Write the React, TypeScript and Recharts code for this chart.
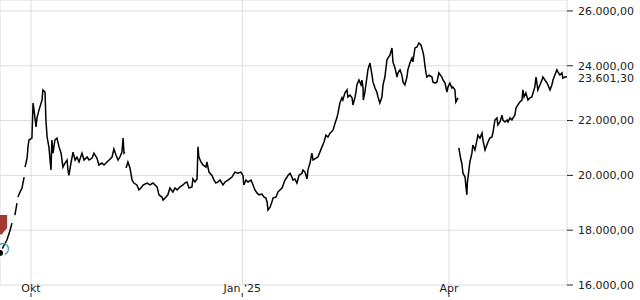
import React from 'react';
import { LineChart, Line, XAxis, YAxis, CartesianGrid, ReferenceLine, ReferenceDot } from 'recharts';

// days counted from 2024-09-01, null price = session gap
const days = [
  16.5, 19.5, 20.9, 21.7, 22.3, 23.0, 23.9, 24.1, 24.3, 25.2, 26.1, 27.0, 27.2, 27.4, 28.3, 28.7, 29.1,
  30.4, 30.9, 31.3, 32.2, 32.6, 33.5, 34.8, 35.2, 36.1, 36.5, 37.0, 37.8, 38.7, 39.1, 39.6, 40.4, 41.3,
  42.2, 43.1, 43.9, 44.8, 45.7, 46.1, 46.5, 47.4, 48.3, 49.2, 50.0, 50.9, 52.2, 53.1, 54.4, 55.3, 56.6,
  57.4, 58.7, 59.6, 60.9, 61.8, 63.1, 64.0, 65.3, 66.1, 67.0, 67.9, 68.7, 69.6, 70.1, 70.5, 70.9, 71.1,
  71.4, 72.2, 73.1, 74.0, 74.8, 76.1, 77.0, 78.3, 78.8, 80.5, 81.8, 83.1, 84.9, 85.7, 87.0, 87.5, 88.8,
  89.6, 90.5, 91.8, 92.7, 93.6, 94.9, 96.2, 97.0, 97.9, 98.8, 100.1, 100.5, 101.4, 102.3, 102.7, 103.1,
  104.0, 104.9, 106.2, 106.6, 107.5, 108.8, 109.7, 110.5, 111.4, 112.3, 113.6, 114.5, 115.8, 117.5,
  118.8, 120.1, 121.4, 122.3, 122.7, 123.6, 124.5, 125.8, 126.7, 127.5, 128.4, 129.3, 130.6, 131.4,
  132.3, 132.8, 133.2, 134.1, 134.9, 135.4, 136.7, 137.5, 138.4, 139.3, 140.6, 141.5, 141.9, 142.8,
  143.6, 144.1, 144.9, 145.8, 146.7, 148.0, 148.4, 149.3, 150.2, 150.6, 151.5, 152.3, 152.8, 154.1,
  154.9, 155.8, 156.7, 157.6, 158.4, 159.3, 160.2, 161.5, 162.4, 163.2, 163.7, 164.5, 165.4, 165.8,
  166.7, 167.6, 168.0, 168.9, 169.8, 170.2, 171.1, 171.5, 171.9, 172.8, 173.7, 174.1, 174.6, 174.7,
  175.4, 176.3, 176.7, 177.6, 178.5, 178.9, 179.8, 180.6, 181.1, 181.9, 182.8, 183.3, 184.1, 185.0,
  185.4, 186.3, 187.2, 187.6, 188.5, 189.4, 189.8, 190.7, 191.5, 192.0, 192.8, 193.7, 194.1, 195.0,
  195.9, 196.3, 197.2, 198.1, 198.9, 199.8, 200.7, 201.1, 201.5, 202.0, 202.4, 203.3, 204.6, 205.0,
  205.9, 206.8, 207.6, 208.9, 209.4, 210.3, 211.1, 211.6, 212.4, 213.3, 213.7, 214.6, 215.0, 215.9,
  216.1, 216.3, 217.2, 217.6, 218.1, 219.0, 219.4, 219.8, 220.0, 220.3, 220.7, 221.1, 222.0, 222.4,
  223.3, 224.2, 224.6, 225.5, 226.4, 226.8, 227.7, 228.5, 229.0, 229.8, 230.7, 231.2, 232.0, 232.9,
  233.3, 234.2, 235.1, 235.5, 236.4, 237.3, 237.7, 238.6, 239.4, 239.9, 240.7, 241.2, 242.0, 242.9,
  243.8, 244.2, 244.7, 245.5, 246.4, 247.3, 248.1, 248.6, 249.4, 249.9, 250.3, 250.7, 251.6, 252.5,
  252.9, 253.8, 254.7, 255.1, 256.0, 256.8, 257.3, 258.1, 259.0, 259.5, 260.3, 261.2, 261.6, 262.5,
  263.4,
];

const prices: (number | null)[] = [
  17170, 17640, 18000, 18260, null, 18550, 18990, null, 19210, 19390, 19540, 19940, null, 20300, 20630, 21040, 21290,
  21360, 22640, 22390, 21770, 22100, 22390, 22750, 23120, 23040, 22020, 21400, 21040, 20200, 21290, 20810, 21290, 21360,
  21040, 20810, 20300, 20450, 20560, 20200, 20000, 20450, 20850, 20560, 20670, 20490, 20810, 20560, 20670, 20560, 20630,
  20810, 20630, 20380, 20450, 20380, 20490, 20560, 20670, 20960, 20740, 20560, 20670, 20850, 21360, 20810, 20850, null,
  20270, 20490, 20270, 19830, 19720, 19650, 19470, 19580, 19650, 19720, 19650, 19720, 19580, 19290, 19210, 19100, 19210,
  19290, 19540, 19390, 19540, 19470, 19580, 19650, 19720, 19760, 19540, 19580, 19870, 19760, 19870, 21040, 20670,
  20490, 20380, 20300, 20490, 20120, 20000, 19830, 19720, 19760, 19830, 19650, 19760, 19830, 19940,
  20120, 20080, 20120, 20000, 19650, 19830, 19760, 19830, 19650, 19470, 19360, 19290, 19320, 19210,
  19170, 19030, 18735, 18840, 19030, 19170, 19210, 19390, 19470, 19540, 19830, 19940, 20000, 20080,
  19940, 19830, 19870, 19720, 20000, 20080, 20200, 20120, 19870, 20200, 20450, 20810, 20560, 20630,
  20670, 20850, 21040, 21220, 21470, 21400, 21540, 21650, 21900, 22100, 22280, 22640, 22830, 22750,
  23010, 23120, 22860, 22930, 22830, 22570, 22860, 23040, 23300, 23480, 23300, 23480, 23190, 22750,
  23040, 23590, 23850, 24100, 23660, 23410, 23190, 23040, 22860, 22640, 22860, 23300, 23590, 24210,
  24280, 24390, 24650, 24140, 23920, 23590, 23740, 23850, 23660, 23410, 23300, 23590, 23850, 24100,
  24280, 24140, 24650, 24690, 24830, 24760, 24500, 24320, 24030, 23740, 23590, 23660, 23590, 23410,
  23370, 23410, 23740, 23590, 23480, 23370, 23040, 23230, 23370, 23190, 23230, 23120, 22680, 22830,
  null, 21000, 20560, 20450, 20080, 19940, 19580, 19290, 19720, 19940, 20200, 20490, 20810, 21110,
  20925, 21290, 21470, 21360, 21540, 21290, 20925, 21110, 21220, 21360, 21400, 21580, 22020, 22100,
  21840, 21950, 22200, 22020, 21950, 22020, 21950, 22100, 22020, 22100, 22200, 22460, 22570, 22680,
  22750, 23120, 22860, 23010, 22750, 22830, 22860, 23010, 23230, 23590, 23370, 23120, 23300, 23480,
  23590, 23480, 23370, 23300, 23120, 23300, 23480, 23660, 23850, 23770, 23660, 23740, 23550, 23590,
  23601.3,
];

const xTicks = [30, 122, 212];
const xTickLabels = ['Okt', "Jan '25", 'Apr'];
const yTicks = [16000, 18000, 20000, 22000, 24000, 26000];
const lastPrice = 23601.3;

const eventDays = [17, 17.8];
const eventPrices = [17824, 17313];
const eventKinds = ['arrow', 'circle'];

const data = days.map((day, i) => ({ day, price: prices[i] }));

const fmt = (v: number) => {
  const [int, dec] = v.toFixed(2).split('.');
  return int.replace(/\B(?=(\d{3})+(?!\d))/g, '.') + ',' + dec;
};

const XTick = ({ x, y, index }: any) => (
  <g>
    <text x={x} y={y} dy={7} textAnchor="middle" fontSize={11} fill="#222">{xTickLabels[index]}</text>
    <line x1={x} x2={x} y1={y + 8} y2={y + 12} stroke="#222" />
  </g>
);

const Arrow = ({ cx, cy }: any) => (
  <path d={`M${cx - 6},${cy - 20}L${cx + 6},${cy - 20}L${cx + 6},${cy - 7}L${cx},${cy}L${cx - 6},${cy - 7}Z`} fill="#a33a32" />
);

const Ring = ({ cx, cy }: any) => (
  <circle cx={cx} cy={cy} r={5.5} fill="none" stroke="#4fa8b5" strokeWidth={1.5} />
);

const LastLabel = ({ viewBox }: any) => (
  <text x={viewBox.x + viewBox.width + 11} y={viewBox.y} dy={5} fontSize={11} fill="#222">
    {fmt(lastPrice)}
  </text>
);

export default function App() {
  return (
    <div style={ { position: 'absolute', left: 0, top: 0 } }>
      <LineChart
        width={ 640 }
        height={ 300 }
        data={ data }
        margin={ { top: 0, right: 0, bottom: 0, left: 0 } }
        style={ { fontFamily: '"DejaVu Sans", sans-serif' } }
      >
        <CartesianGrid stroke="#dcdcdc" />
        <XAxis
          dataKey="day"
          type="number"
          domain={ [16.5, 263.4] }
          allowDataOverflow
          ticks={ xTicks }
          height={ 15 }
          axisLine={ false }
          tickLine={ false }
          tickSize={ 0 }
          tickMargin={ 0 }
          tick={ <XTick /> }
        />
        <YAxis
          orientation="right"
          type="number"
          domain={ [16000, 26400] }
          allowDataOverflow
          ticks={ yTicks }
          width={ 73 }
          axisLine={ false }
          stroke="#222"
          tickSize={ 6 }
          tickMargin={ 5 }
          tick={ { fill: '#222', fontSize: 11 } }
          tickFormatter={ fmt }
        />
        <ReferenceLine y={ lastPrice } stroke="none" label={ <LastLabel /> } />
        <Line
          dataKey="price"
          stroke="#000"
          strokeWidth={ 1.5 }
          dot={ false }
          isAnimationActive={ false }
        />
        { eventDays.map((d, i) => (
          <ReferenceDot
            key={ i }
            x={ d }
            y={ eventPrices[i] }
            shape={ eventKinds[i] === 'arrow' ? <Arrow /> : <Ring /> }
          />
        )) }
      </LineChart>
    </div>
  );
}
